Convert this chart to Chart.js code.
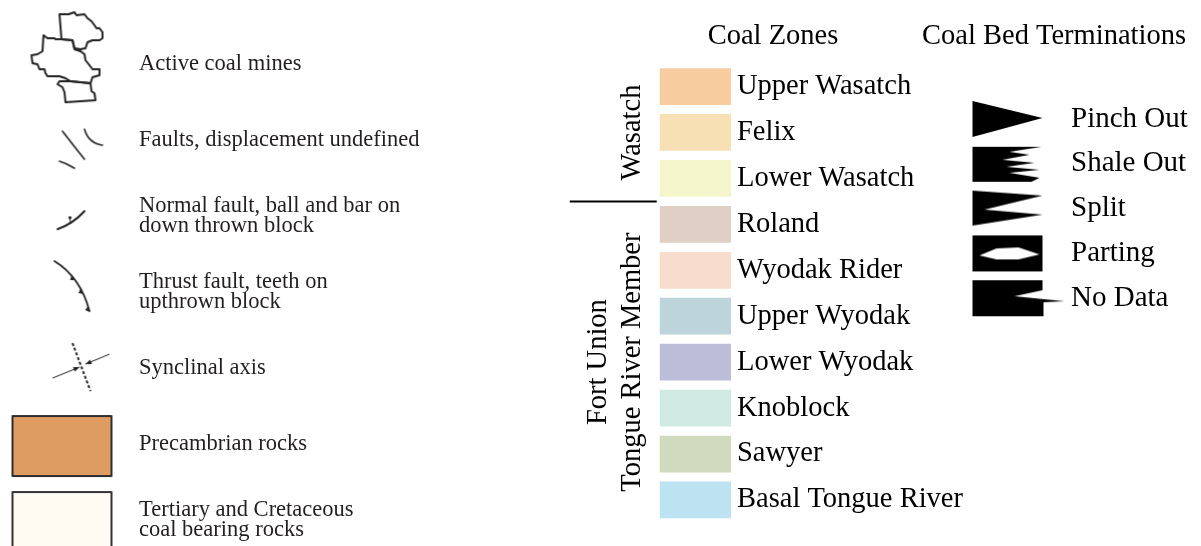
<!DOCTYPE html>
<html>
<head>
<meta charset="utf-8">
<script src="https://cdn.jsdelivr.net/npm/chart.js@4.4.1/dist/chart.umd.min.js"></script>
<style>
  body { margin: 0; width: 1201px; height: 546px; overflow: hidden; background: #fff; position: relative; }
  canvas { position: absolute; top: 0; }
  #units { left: 0; }
  #zones { left: 560px; }
  #terms { left: 907px; }
</style>
</head>
<body>
<canvas id="units" width="460" height="580"></canvas>
<canvas id="zones" width="426" height="546"></canvas>
<canvas id="terms" width="294" height="344"></canvas>
<script>
const serif = '"Liberation Serif", "Times New Roman", serif';

// left column: map symbols
const unitLabels = [
  ['Active coal mines'],
  ['Faults, displacement undefined'],
  ['Normal fault, ball and bar on', 'down thrown block'],
  ['Thrust fault, teeth on', 'upthrown block'],
  ['Synclinal axis'],
  ['Precambrian rocks'],
  ['Tertiary and Cretaceous', 'coal bearing rocks']
];
const unitMarks = [0, 0, 0, 0, 0, 0, 0];

// middle: coal zones
const zoneLabels = ['Upper Wasatch', 'Felix', 'Lower Wasatch', 'Roland', 'Wyodak Rider',
  'Upper Wyodak', 'Lower Wyodak', 'Knoblock', 'Sawyer', 'Basal Tongue River'];
const zoneValues = [1, 1, 1, 1, 1, 1, 1, 1, 1, 1];
const zoneColors = ['#f7cc9f', '#f8e0b5', '#f5f5cc', '#e0cfc4', '#f8dccd',
  '#bcd4da', '#bbbdd9', '#d0e9e2', '#d0dbbd', '#bde2f2'];
const zoneGroups = [
  { lines: ['Wasatch'], first: 0, last: 2 },
  { lines: ['Fort Union', 'Tongue River Member'], first: 3, last: 9 }
];

// right: coal bed terminations
const termLabels = ['Pinch Out', 'Shale Out', 'Split', 'Parting', 'No Data'];
const termMarks = [0, 0, 0, 0, 0];

// ---- symbol images ----
function icon(w, h, ox, cy, draw) {
  const c = document.createElement('canvas');
  c.width = w; c.height = h;
  const ctx = c.getContext('2d');
  ctx.translate(ox, h / 2 - cy);
  ctx.strokeStyle = '#222';
  ctx.fillStyle = '#222';
  ctx.lineJoin = 'round';
  ctx.lineCap = 'round';
  draw(ctx);
  return c;
}
function poly(ctx, pts) {
  ctx.beginPath();
  pts.forEach((p, i) => i ? ctx.lineTo(p[0], p[1]) : ctx.moveTo(p[0], p[1]));
  ctx.closePath();
}
function bez(a, b, c, t) {
  const u = 1 - t;
  return [u * u * a[0] + 2 * u * t * b[0] + t * t * c[0], u * u * a[1] + 2 * u * t * b[1] + t * t * c[1]];
}
function bezTan(a, b, c, t) {
  return [2 * (1 - t) * (b[0] - a[0]) + 2 * t * (c[0] - b[0]), 2 * (1 - t) * (b[1] - a[1]) + 2 * t * (c[1] - b[1])];
}
function arrow(ctx, x0, y0, x1, y1) {
  ctx.beginPath(); ctx.moveTo(x0, y0); ctx.lineTo(x1, y1); ctx.stroke();
  const a = Math.atan2(y1 - y0, x1 - x0);
  ctx.beginPath();
  ctx.moveTo(x1, y1);
  ctx.lineTo(x1 - 6 * Math.cos(a) + 2.5 * Math.sin(a), y1 - 6 * Math.sin(a) - 2.5 * Math.cos(a));
  ctx.lineTo(x1 - 6 * Math.cos(a) - 2.5 * Math.sin(a), y1 - 6 * Math.sin(a) + 2.5 * Math.cos(a));
  ctx.closePath(); ctx.fill();
}

const unitIcons = [
  icon(133, 110, 0, 62, ctx => {
    ctx.lineWidth = 2;
    poly(ctx, [[57,12],[66,12],[72,10],[74,13],[82,12],[85,16],[89,19],[92,23],[94,26],[97,26],[100,30],[100,36],[97,38],[90,38],[85,40],[83,46],[78,47],[72,46],[70,38],[59,37]]);
    ctx.stroke();
    poly(ctx, [[41,33],[45,36],[52,36],[53,37],[59,37],[70,38],[72,47],[78,49],[82,52],[83,58],[87,63],[90,67],[97,67],[97,73],[90,75],[88,81],[68,79],[63,76],[57,74],[45,74],[43,71],[42,67],[37,67],[35,62],[30,61],[29,53],[35,52],[40,49]]);
    ctx.stroke();
    poly(ctx, [[68,79],[88,81],[89,89],[92,91],[93,98],[63,100],[62,90],[60,85],[55,82],[57,79]]);
    ctx.stroke();
  }),
  icon(133, 60, 0, 139, ctx => {
    ctx.lineWidth = 1.6;
    ctx.beginPath(); ctx.moveTo(60, 130); ctx.quadraticCurveTo(70, 143, 82, 158); ctx.stroke();
    ctx.beginPath(); ctx.moveTo(82, 128); ctx.quadraticCurveTo(86, 142, 100, 144); ctx.stroke();
    ctx.beginPath(); ctx.moveTo(57, 160); ctx.quadraticCurveTo(64, 162, 72, 167); ctx.stroke();
  }),
  icon(133, 50, 0, 215, ctx => {
    ctx.lineWidth = 2;
    ctx.beginPath(); ctx.moveTo(55, 228); ctx.quadraticCurveTo(70, 223, 82, 210); ctx.stroke();
    ctx.lineWidth = 1;
    ctx.beginPath(); ctx.moveTo(68, 222); ctx.lineTo(67.5, 218); ctx.stroke();
    ctx.beginPath(); ctx.arc(67.5, 216.5, 1.6, 0, Math.PI * 2); ctx.fill();
  }),
  icon(133, 70, 0, 291, ctx => {
    const p0 = [52, 260], p1 = [78, 276], p2 = [87, 310];
    ctx.lineWidth = 1.8;
    ctx.beginPath(); ctx.moveTo(p0[0], p0[1]); ctx.quadraticCurveTo(p1[0], p1[1], p2[0], p2[1]); ctx.stroke();
    [0.42, 0.68, 0.97].forEach(t => {
      const p = bez(p0, p1, p2, t), d = bezTan(p0, p1, p2, t);
      const l = Math.hypot(d[0], d[1]), tx = d[0] / l, ty = d[1] / l;
      ctx.beginPath();
      ctx.moveTo(p[0] - tx * 3, p[1] - ty * 3);
      ctx.lineTo(p[0] + tx * 3, p[1] + ty * 3);
      ctx.lineTo(p[0] - ty * 4, p[1] + tx * 4);
      ctx.closePath(); ctx.fill();
    });
  }),
  icon(133, 70, 0, 367, ctx => {
    ctx.lineWidth = 2;
    ctx.setLineDash([3, 2]);
    ctx.lineCap = 'butt';
    ctx.beginPath(); ctx.moveTo(70, 342); ctx.lineTo(88, 390); ctx.stroke();
    ctx.setLineDash([]);
    ctx.lineWidth = 1;
    arrow(ctx, 50, 377, 77, 366);
    arrow(ctx, 107, 353, 83, 363);
  }),
  icon(133, 110, 0, 443, ctx => {
    ctx.fillStyle = '#de9b62';
    ctx.fillRect(10, 415, 99, 60);
    ctx.lineWidth = 2; ctx.strokeStyle = '#2d2d2d';
    ctx.strokeRect(10, 415, 99, 60);
  }),
  icon(133, 110, 0, 519, ctx => {
    ctx.fillStyle = '#fffaf2';
    ctx.fillRect(10, 491, 99, 62);
    ctx.lineWidth = 2; ctx.strokeStyle = '#333';
    ctx.strokeRect(10, 491, 99, 62);
  })
];

const termIcons = [
  icon(158, 40, 63, 18, ctx => {
    ctx.fillStyle = '#000';
    poly(ctx, [[0, 0], [70, 17], [0, 36]]); ctx.fill();
  }),
  icon(158, 40, 63, 18, ctx => {
    ctx.fillStyle = '#000';
    poly(ctx, [[0, 1], [69, 1], [37, 6], [57, 9], [30, 14], [62, 17], [34, 21], [67, 24], [37, 27], [67, 32], [59, 36], [0, 36]]);
    ctx.fill();
  }),
  icon(158, 40, 63, 18, ctx => {
    ctx.fillStyle = '#000';
    poly(ctx, [[0, 0], [70, 5], [12, 19], [70, 24], [0, 35]]); ctx.fill();
  }),
  icon(158, 40, 63, 18, ctx => {
    ctx.fillStyle = '#000';
    ctx.fillRect(0, 0, 70, 36);
    ctx.fillStyle = '#fff';
    poly(ctx, [[7, 20], [24, 13], [46, 12], [67, 19], [46, 24], [24, 24]]); ctx.fill();
  }),
  icon(158, 40, 63, 18, ctx => {
    ctx.fillStyle = '#000';
    poly(ctx, [[0, 0], [70, 0], [70, 10], [42, 16], [92, 21], [71, 22], [71, 36], [0, 36]]); ctx.fill();
  })
];

// ---- rotated group names and divider for the coal zones ----
const zoneGroupLabels = {
  id: 'zoneGroupLabels',
  afterDraw(chart) {
    const { ctx, scales: { x, y } } = chart;
    const left = x.getPixelForValue(0);
    ctx.save();
    ctx.fillStyle = '#000';
    ctx.strokeStyle = '#000';
    ctx.font = '28.5px ' + serif;
    ctx.textAlign = 'center';
    ctx.textBaseline = 'alphabetic';
    zoneGroups.forEach(g => {
      const mid = (y.getPixelForValue(g.first) + y.getPixelForValue(g.last)) / 2;
      g.lines.forEach((line, i) => {
        const bx = left - 20 - (g.lines.length - 1 - i) * 34;
        ctx.save();
        ctx.translate(bx, mid);
        ctx.rotate(-Math.PI / 2);
        ctx.fillText(line, 0, 0);
        ctx.restore();
      });
    });
    const g0 = zoneGroups[0];
    const yb = (y.getPixelForValue(g0.last) + y.getPixelForValue(g0.last + 1)) / 2;
    ctx.lineWidth = 2;
    ctx.beginPath();
    ctx.moveTo(left - 90, yb);
    ctx.lineTo(left - 3, yb);
    ctx.stroke();
    ctx.restore();
  }
};

const common = {
  responsive: false,
  animation: false,
  devicePixelRatio: 1,
  events: []
};

new Chart('units', {
  type: 'line',
  data: {
    labels: unitLabels,
    datasets: [{ data: unitMarks, showLine: false, pointStyle: unitIcons, pointRadius: 1, clip: false }]
  },
  options: {
    ...common,
    indexAxis: 'y',
    layout: { padding: { top: 20, bottom: 22 } },
    plugins: { legend: { display: false }, tooltip: { enabled: false } },
    scales: {
      x: { type: 'linear', min: -1, max: 1, display: false },
      y: {
        type: 'category', position: 'right', offset: true,
        grid: { display: false, drawTicks: false }, border: { display: false },
        ticks: { color: '#231f20', padding: 6, font: { family: serif, size: 22.5, lineHeight: 0.9 } },
        afterFit: s => { s.width = 327; }
      }
    }
  }
});

new Chart('zones', {
  type: 'bar',
  data: {
    labels: zoneLabels,
    datasets: [{ data: zoneValues, backgroundColor: zoneColors, borderWidth: 0, categoryPercentage: 1, barPercentage: 0.8 }]
  },
  options: {
    ...common,
    indexAxis: 'y',
    plugins: {
      legend: { display: false },
      tooltip: { enabled: false },
      title: {
        display: true, text: 'Coal Zones', color: '#000',
        font: { family: serif, size: 28.5, weight: 'normal' },
        padding: { top: 19, bottom: 10.4 }
      }
    },
    scales: {
      // left part of the x range leaves room for the group names
      x: { min: -1.4, max: 1, display: false },
      y: {
        position: 'right',
        grid: { display: false, drawTicks: false }, border: { display: false },
        ticks: { color: '#000', padding: 6, font: { family: serif, size: 28.5 } },
        afterFit: s => { s.width = 255; }
      }
    }
  },
  plugins: [zoneGroupLabels]
});

new Chart('terms', {
  type: 'line',
  data: {
    labels: termLabels,
    datasets: [{ data: termMarks, showLine: false, pointStyle: termIcons, pointRadius: 1, clip: false }]
  },
  options: {
    ...common,
    indexAxis: 'y',
    plugins: {
      legend: { display: false },
      tooltip: { enabled: false },
      title: {
        display: true, text: 'Coal Bed Terminations', color: '#000',
        font: { family: serif, size: 28.5, weight: 'normal' },
        padding: { top: 19, bottom: 43.4 }
      }
    },
    scales: {
      x: { type: 'linear', min: -1, max: 1, display: false },
      y: {
        type: 'category', position: 'right', offset: true,
        grid: { display: false, drawTicks: false }, border: { display: false },
        ticks: { color: '#000', padding: 6, font: { family: serif, size: 29 } },
        afterFit: s => { s.width = 136; }
      }
    }
  }
});
</script>
</body>
</html>
